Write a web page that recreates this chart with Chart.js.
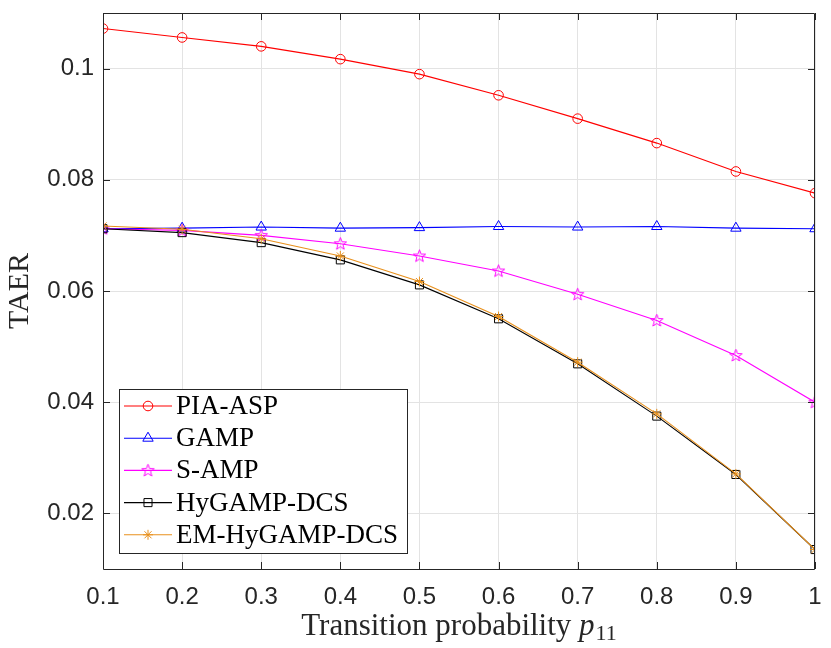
<!DOCTYPE html>
<html>
<head>
<meta charset="utf-8">
<script src="https://cdn.jsdelivr.net/npm/chart.js@4.4.0/dist/chart.umd.min.js"></script>
<style>
html, body { margin: 0; padding: 0; background: #fff; }
#wrap { width: 831px; height: 648px; }
</style>
</head>
<body>
<div id="wrap"><canvas id="taerChart" width="831" height="648"></canvas></div>
<script>
// values
const p11 = [0.1, 0.2, 0.3, 0.4, 0.5, 0.6, 0.7, 0.8, 0.9, 1.0];
const piaAsp = [0.1072, 0.1056, 0.1040, 0.1017, 0.0990, 0.0952, 0.0910, 0.0866, 0.0815, 0.0776];
const gamp = [0.0712, 0.0713, 0.0715, 0.0713, 0.0714, 0.0716, 0.0715, 0.0716, 0.0713, 0.0712];
const sAmp = [0.0712, 0.0709, 0.0700, 0.0685, 0.0663, 0.0636, 0.0594, 0.0547, 0.0484, 0.0400];
const hyGampDcs = [0.0712, 0.0705, 0.0687, 0.0656, 0.0611, 0.0550, 0.0469, 0.0375, 0.0270, 0.0135];
const emHyGampDcs = [0.0717, 0.0711, 0.0694, 0.0663, 0.0617, 0.0554, 0.0472, 0.0379, 0.0271, 0.0135];

const xTicks = [0.1, 0.2, 0.3, 0.4, 0.5, 0.6, 0.7, 0.8, 0.9, 1];
const yTicks = [0.02, 0.04, 0.06, 0.08, 0.1];

const axisColor = '#262626';
const gridColor = '#e3e3e3';
const sansFont = '"Liberation Sans", Arial, sans-serif';
const serifFont = '"Liberation Serif", "Times New Roman", serif';

// five-pointed star marker (MATLAB 'p')
function makePentagram(color) {
    const c = document.createElement('canvas');
    c.width = 15;
    c.height = 15;
    const g = c.getContext('2d');
    g.strokeStyle = color;
    g.lineWidth = 1;
    g.beginPath();
    for (let i = 0; i < 10; i++) {
        const r = i % 2 === 0 ? 6.5 : 2.7;
        const a = -Math.PI / 2 + i * Math.PI / 5;
        const px = 7.5 + r * Math.cos(a);
        const py = 7.8 + r * Math.sin(a);
        if (i === 0) g.moveTo(px, py); else g.lineTo(px, py);
    }
    g.closePath();
    g.stroke();
    return c;
}

function series(label, values, color, style, radius, order) {
    return {
        label: label,
        data: p11.map((x, i) => ({ x: x, y: values[i] })),
        borderColor: color,
        borderWidth: 1.1,
        pointStyle: style,
        pointRadius: radius,
        pointBorderColor: color,
        pointBorderWidth: 1,
        pointBackgroundColor: 'rgba(0,0,0,0)',
        fill: false,
        tension: 0,
        order: order
    };
}

const datasets = [
    series('PIA-ASP', piaAsp, '#ff0000', 'circle', 4.8, 5),
    series('GAMP', gamp, '#0000ff', 'triangle', 6, 4),
    series('S-AMP', sAmp, '#ff00ff', makePentagram('#ff00ff'), 7, 3),
    series('HyGAMP-DCS', hyGampDcs, '#000000', 'rect', 5.7, 2),
    series('EM-HyGAMP-DCS', emHyGampDcs, '#e8901c', 'star', 5, 1)
];

const decorPlugin = {
    id: 'decor',
    afterDraw(chart) {
        const ctx = chart.ctx;
        const area = chart.chartArea;
        const xs = chart.scales.x;
        const ys = chart.scales.y;
        const tick = 7;

        ctx.save();
        // axes box and inward ticks
        ctx.strokeStyle = axisColor;
        ctx.lineWidth = 1;
        ctx.beginPath();
        ctx.rect(area.left + 0.5, area.top + 0.5, area.right - area.left - 1, area.bottom - area.top);
        xTicks.forEach(v => {
            const px = Math.round(xs.getPixelForValue(v)) + 0.5;
            ctx.moveTo(px, area.bottom);
            ctx.lineTo(px, area.bottom - tick);
            ctx.moveTo(px, area.top);
            ctx.lineTo(px, area.top + tick);
        });
        yTicks.forEach(v => {
            const py = Math.round(ys.getPixelForValue(v)) + 0.5;
            ctx.moveTo(area.left, py);
            ctx.lineTo(area.left + tick, py);
            ctx.moveTo(area.right, py);
            ctx.lineTo(area.right - tick, py);
        });
        ctx.stroke();

        // legend, lower left inside the axes
        ctx.font = '27px ' + serifFont;
        let textW = 0;
        datasets.forEach(d => { textW = Math.max(textW, ctx.measureText(d.label).width); });
        const rowH = 32.2;
        const lx = area.left + 16;
        const lw = 57 + textW + 9;
        const lh = rowH * datasets.length + 3;
        const ly = area.bottom - 16 - lh;
        ctx.fillStyle = '#ffffff';
        ctx.fillRect(lx, ly, lw, lh);
        ctx.strokeStyle = axisColor;
        ctx.strokeRect(Math.round(lx) + 0.5, Math.round(ly) + 0.5, Math.round(lw), Math.round(lh));
        ctx.textBaseline = 'middle';
        ctx.textAlign = 'left';
        datasets.forEach((d, i) => {
            const cy = ly + 17 + i * rowH;
            ctx.strokeStyle = d.borderColor;
            ctx.lineWidth = d.borderWidth;
            ctx.beginPath();
            ctx.moveTo(lx + 5, cy);
            ctx.lineTo(lx + 53, cy);
            ctx.stroke();
            ctx.lineWidth = 1;
            ctx.fillStyle = 'rgba(0,0,0,0)';
            Chart.helpers.drawPoint(ctx, {
                pointStyle: d.pointStyle,
                radius: d.pointRadius,
                rotation: 0,
                borderWidth: 1
            }, lx + 29, cy);
            ctx.fillStyle = '#000000';
            ctx.fillText(d.label, lx + 57, cy + 1);
        });

        // x axis title with italic p and subscript 11
        const baseY = area.bottom + 66;
        const part1 = 'Transition probability ';
        ctx.fillStyle = axisColor;
        ctx.textBaseline = 'alphabetic';
        ctx.font = '31px ' + serifFont;
        const w1 = ctx.measureText(part1).width;
        ctx.font = 'italic 31px ' + serifFont;
        const w2 = ctx.measureText('p').width;
        ctx.font = '22px ' + serifFont;
        const w3 = ctx.measureText('11').width;
        let tx = (area.left + area.right) / 2 - (w1 + w2 + w3 + 1) / 2;
        ctx.font = '31px ' + serifFont;
        ctx.fillText(part1, tx, baseY);
        tx += w1;
        ctx.font = 'italic 31px ' + serifFont;
        ctx.fillText('p', tx, baseY);
        tx += w2 + 1;
        ctx.font = '22px ' + serifFont;
        ctx.fillText('11', tx, baseY + 5);

        // y axis title
        ctx.translate(20, (area.top + area.bottom) / 2);
        ctx.rotate(-Math.PI / 2);
        ctx.font = '30px ' + serifFont;
        ctx.textAlign = 'center';
        ctx.textBaseline = 'middle';
        ctx.fillText('TAER', 0, 0);
        ctx.restore();
    }
};

const chart = new Chart(document.getElementById('taerChart'), {
    type: 'line',
    data: { datasets: datasets },
    options: {
        responsive: false,
        animation: false,
        layout: { padding: { top: 13, right: 16, left: 0, bottom: 0 } },
        plugins: {
            legend: { display: false },
            tooltip: { enabled: false }
        },
        scales: {
            x: {
                type: 'linear',
                min: 0.1,
                max: 1,
                afterBuildTicks: s => { s.ticks = xTicks.map(v => ({ value: v })); },
                afterFit: s => {
                    s.height = 79;
                    s.paddingLeft = 0;
                    s.paddingRight = 0;
                },
                grid: { color: gridColor, drawTicks: false },
                border: { display: false },
                ticks: {
                    padding: 14,
                    color: axisColor,
                    font: { family: sansFont, size: 24 },
                    maxRotation: 0,
                    autoSkip: false,
                    callback: v => (v === 1 ? '1' : v.toFixed(1))
                }
            },
            y: {
                min: 0.01,
                max: 0.11,
                afterBuildTicks: s => { s.ticks = yTicks.map(v => ({ value: v })); },
                afterFit: s => {
                    s.width = 103;
                    s.paddingTop = 0;
                    s.paddingBottom = 0;
                },
                grid: { color: gridColor, drawTicks: false },
                border: { display: false },
                ticks: {
                    padding: 9,
                    color: axisColor,
                    font: { family: sansFont, size: 24 },
                    callback: v => (v === 0.1 ? '0.1' : v.toFixed(2))
                }
            }
        }
    },
    plugins: [decorPlugin]
});
</script>
</body>
</html>
